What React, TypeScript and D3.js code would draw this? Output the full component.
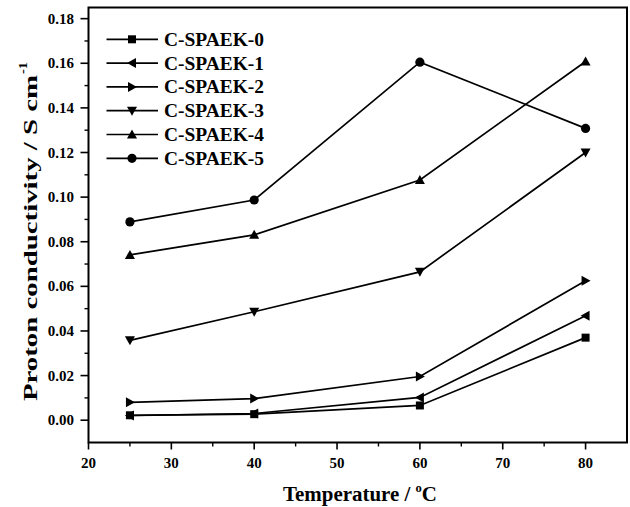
import React from 'react';
import * as d3 from 'd3';

const temps = [25, 40, 60, 80];
const seriesNames = ['C-SPAEK-0', 'C-SPAEK-1', 'C-SPAEK-2', 'C-SPAEK-3', 'C-SPAEK-4', 'C-SPAEK-5'];
const spaek0 = [0.0022, 0.0027, 0.0066, 0.0370];
const spaek1 = [0.0021, 0.0030, 0.0102, 0.0468];
const spaek2 = [0.0080, 0.0097, 0.0196, 0.0625];
const spaek3 = [0.0358, 0.0486, 0.0665, 0.1200];
const spaek4 = [0.0741, 0.0831, 0.1077, 0.1608];
const spaek5 = [0.0889, 0.0987, 0.1605, 0.1308];
const seriesValues = [spaek0, spaek1, spaek2, spaek3, spaek4, spaek5];
const markers = ['square', 'left', 'right', 'down', 'up', 'circle'];
const xTicks = [20, 30, 40, 50, 60, 70, 80];
const yTicks = [0, 0.02, 0.04, 0.06, 0.08, 0.1, 0.12, 0.14, 0.16, 0.18];

const W = 630;
const H = 507;
const PL = 88.5;
const PR = 627;
const PT = 7.5;
const PB = 442.5;
const FONT = '"Liberation Serif", "Times New Roman", serif';

const x = d3.scaleLinear().domain([20, 85]).range([PL, PR]);
const y = d3.scaleLinear().domain([-0.01, 0.185]).range([PB, PT]);

const Marker = ({ kind, cx, cy }: { kind: string; cx: number; cy: number }) => {
  const s = 5;
  if (kind === 'square') return <rect x={cx - 4} y={cy - 4} width={8} height={8} fill="#000" />;
  if (kind === 'circle') return <circle cx={cx} cy={cy} r={4.6} fill="#000" />;
  let pts: number[][] = [];
  if (kind === 'up') pts = [[0, -s], [s, s * 0.8], [-s, s * 0.8]];
  if (kind === 'down') pts = [[0, s], [s, -s * 0.8], [-s, -s * 0.8]];
  if (kind === 'left') pts = [[-s, 0], [s * 0.8, -s], [s * 0.8, s]];
  if (kind === 'right') pts = [[s, 0], [-s * 0.8, -s], [-s * 0.8, s]];
  return <polygon points={pts.map((p) => `${cx + p[0]},${cy + p[1]}`).join(' ')} fill="#000" />;
};

export default function App() {
  const line = d3
    .line<number>()
    .x((_, i) => x(temps[i]))
    .y((d) => y(d));
  const minorX = d3.range(25, 85, 10);
  const minorY = d3.range(0.01, 0.18, 0.02);
  return (
    <svg width={W} height={H} style={{ position: 'absolute', left: 0, top: 0, background: '#fff' }} fontFamily={FONT}>
      <rect x={PL} y={PT} width={PR - PL} height={PB - PT} fill="none" stroke="#000" strokeWidth={2} />
      {xTicks.map((t) => (
        <g key={'x' + t}>
          <line x1={x(t)} x2={x(t)} y1={PB} y2={PB + 7} stroke="#000" strokeWidth={1.6} />
          <text x={x(t)} y={468} textAnchor="middle" fontSize={15} fontWeight="bold">{t}</text>
        </g>
      ))}
      {minorX.map((t) => (
        <line key={'mx' + t} x1={x(t)} x2={x(t)} y1={PB} y2={PB + 4} stroke="#000" strokeWidth={1.4} />
      ))}
      {yTicks.map((t) => (
        <g key={'y' + t}>
          <line x1={PL - 8} x2={PL} y1={y(t)} y2={y(t)} stroke="#000" strokeWidth={1.6} />
          <text x={74} y={y(t) + 5} textAnchor="end" fontSize={15} fontWeight="bold">{d3.format('.2f')(t)}</text>
        </g>
      ))}
      {minorY.map((t) => (
        <line key={'my' + t} x1={PL - 4} x2={PL} y1={y(t)} y2={y(t)} stroke="#000" strokeWidth={1.4} />
      ))}
      {seriesValues.map((vals, si) => (
        <g key={seriesNames[si]}>
          <path d={line(vals) || ''} fill="none" stroke="#000" strokeWidth={1.7} />
          {vals.map((v, i) => (
            <Marker key={i} kind={markers[si]} cx={x(temps[i])} cy={y(v)} />
          ))}
        </g>
      ))}
      {seriesNames.map((n, i) => {
        const ly = 39.3 + i * 23.8;
        return (
          <g key={'lg' + n}>
            <line x1={106.5} x2={158} y1={ly} y2={ly} stroke="#000" strokeWidth={1.7} />
            <Marker kind={markers[i]} cx={132} cy={ly} />
            <text x={164} y={ly + 6.5} fontSize={19} fontWeight="bold" textLength={100} lengthAdjust="spacingAndGlyphs">{n}</text>
          </g>
        );
      })}
      <text x={283} y={501} fontSize={20} fontWeight="bold" textLength={154} lengthAdjust="spacingAndGlyphs">
        Temperature / <tspan dy={-9} fontSize={12}>o</tspan><tspan dy={9}>C</tspan>
      </text>
      <text transform="translate(36.5,401) rotate(-90)" fontSize={19} fontWeight="bold" textLength={326} lengthAdjust="spacingAndGlyphs">
        Proton conductivity / S cm
      </text>
      <text transform="translate(27,74) rotate(-90)" fontSize={12} fontWeight="bold" textLength={12} lengthAdjust="spacingAndGlyphs">
        -1
      </text>
    </svg>
  );
}
